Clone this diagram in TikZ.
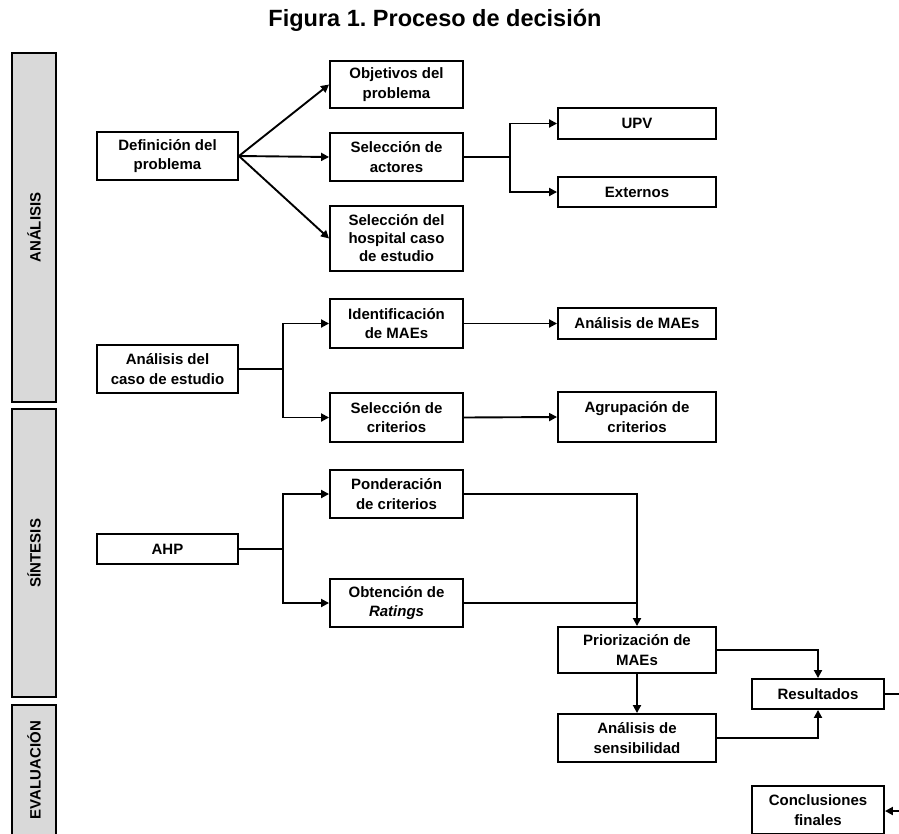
\documentclass[tikz,border=0pt]{standalone}
\usepackage{fontspec}
\setmainfont{Liberation Sans}
\usetikzlibrary{arrows.meta}
\definecolor{barfill}{HTML}{D9D9D9}
\frenchspacing
\begin{document}
\begin{tikzpicture}[x=1pt,y=-1pt,
  box/.style={draw=black, line width=1.9pt, fill=white, align=center, inner sep=0pt,
    font=\fontsize{15}{19.5}\selectfont\bfseries},
  bar/.style={draw=black, line width=1.9pt, fill=barfill, inner sep=0pt,
    font=\fontsize{15}{19}\selectfont\bfseries},
  conn/.style={line width=1.9pt},
  arr/.style={line width=1.9pt, -{Triangle[length=8pt,width=8pt]}},
]
\path[use as bounding box, clip] (0,0) rectangle (899,833);
\fill[white] (0,0) rectangle (899,833);

\node[font=\fontsize{23.5}{28}\selectfont\bfseries] (title) at (435,20) {Figura 1. Proceso de decisión};

% phase bars
\node[bar, rotate=90, minimum width=349pt, minimum height=44pt] (ph1) at (34,227.5) {ANÁLISIS};
\node[bar, rotate=90, minimum width=288pt, minimum height=44pt] (ph2) at (34,553) {SÍNTESIS};
\node[bar, rotate=90, minimum width=130pt, minimum height=44pt] (ph3) at (34,770) {EVALUACIÓN};

% Analysis - definition
\node[box, minimum width=141pt, minimum height=48pt] (def) at (167.5,156) {Definición del\\problema};
\node[box, minimum width=133pt, minimum height=47pt] (obj) at (396.5,84.5) {Objetivos del\\problema};
\node[box, minimum width=133pt, minimum height=48pt] (act) at (396.5,157) {Selección de\\actores};
\node[box, minimum width=133pt, minimum height=65pt, font=\fontsize{15}{18}\selectfont\bfseries] (hosp) at (396.5,238.5) {Selección del\\hospital caso\\de estudio};
\node[box, minimum width=158pt, minimum height=31pt] (upv) at (637,123.5) {UPV};
\node[box, minimum width=158pt, minimum height=30pt] (ext) at (637,192) {Externos};

% Analysis - case study
\node[box, minimum width=141pt, minimum height=48pt] (acase) at (167.5,369) {Análisis del\\caso de estudio};
\node[box, minimum width=133pt, minimum height=49pt] (ident) at (396.5,323.5) {Identificación\\de MAEs};
\node[box, minimum width=133pt, minimum height=49pt] (selcrit) at (396.5,417.5) {Selección de\\criterios};
\node[box, minimum width=158pt, minimum height=31pt] (amaes) at (637,323.5) {Análisis de MAEs};
\node[box, minimum width=158pt, minimum height=50pt] (agrup) at (637,417) {Agrupación de\\criterios};

% Synthesis
\node[box, minimum width=141pt, minimum height=30pt] (ahp) at (167.5,549) {AHP};
\node[box, minimum width=133pt, minimum height=48pt] (pond) at (396.5,494) {Ponderación\\de criterios};
\node[box, minimum width=133pt, minimum height=48pt] (obt) at (396.5,603) {Obtención de\\\textit{Ratings}};
\node[box, minimum width=158pt, minimum height=46pt] (prio) at (637,650) {Priorización de\\MAEs};

% Evaluation
\node[box, minimum width=158pt, minimum height=48pt] (sens) at (637,738) {Análisis de\\sensibilidad};
\node[box, minimum width=132pt, minimum height=30pt] (res) at (818,694) {Resultados};
\node[box, minimum width=132pt, minimum height=48pt] (concl) at (818,810) {Conclusiones\\finales};

% junctions
\coordinate (j1) at (510,157);
\coordinate (j2) at (283,369);
\coordinate (j3) at (283,549);
\coordinate (rout) at (905,694);
\coordinate (cin) at (905,811);

% connectors
\draw[arr] (def.east) -- (obj.west);
\draw[arr] (def.east) -- (act.west);
\draw[arr] (def.east) -- (hosp.west);

\draw[conn] (act.east) -- (j1);
\draw[arr] (j1) |- (upv.west);
\draw[arr] (j1) |- (ext.west);

\draw[conn] (acase.east) -- (j2);
\draw[arr] (j2) |- (ident.west);
\draw[arr] (j2) |- (selcrit.west);
\draw[arr] (ident.east) -- (amaes.west);
\draw[arr] (selcrit.east) -- (agrup.west);

\draw[conn] (ahp.east) -- (j3);
\draw[arr] (j3) |- (pond.west);
\draw[arr] (j3) |- (obt.west);
\draw[arr] (pond.east) -| (prio.north);
\draw[conn] (obt.east) -- (obt.east -| prio.north);

\draw[arr] (prio.south) -- (sens.north);
\draw[arr] (prio.east) -| (res.north);
\draw[arr] (sens.east) -| (res.south);
\draw[conn] (res.east) -- (rout);
\draw[arr] (cin) -- (concl.east |- cin);
\end{tikzpicture}
\end{document}
